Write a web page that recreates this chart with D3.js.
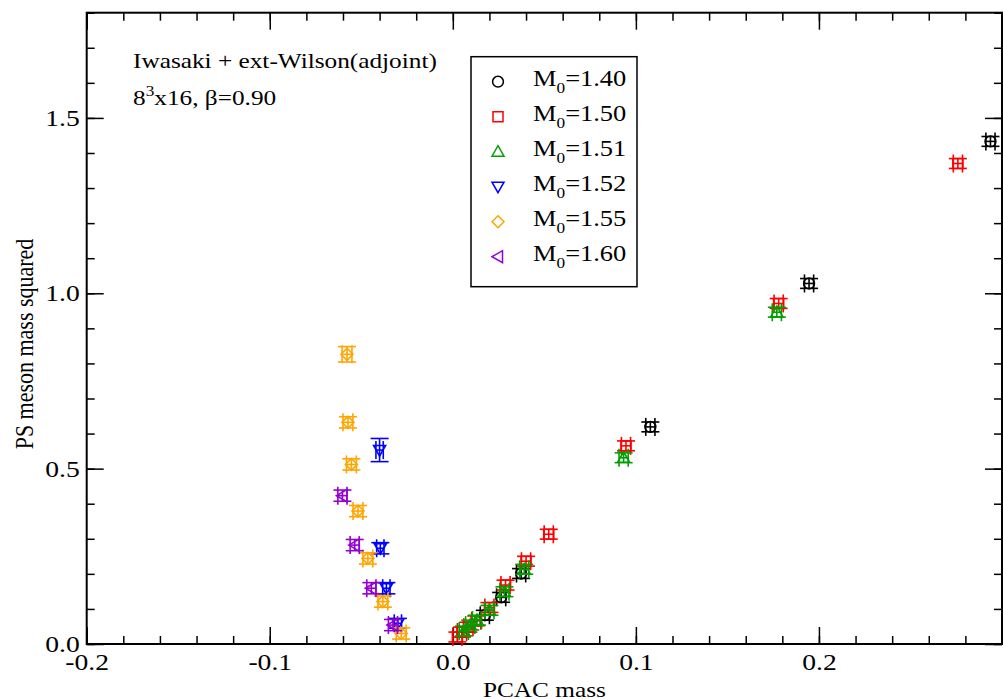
<!DOCTYPE html>
<html>
<head>
<meta charset="utf-8">
<script src="https://cdn.jsdelivr.net/npm/d3@7"></script>
<style>
  body { margin: 0; background: #fff; }
  text { font-family: "Liberation Serif", "Times New Roman", serif; fill: #000; }
</style>
</head>
<body>
<div id="chart"></div>
<script>
// data: [PCAC mass, PS mass^2, x error, y error]
let labels = ["1.40", "1.50", "1.51", "1.52", "1.55", "1.60"];
let colors = ["#000000", "#ff0000", "#00a000", "#0000ff", "#ffa500", "#9400d3"];
let shapes = ["circle", "square", "triangleUp", "triangleDown", "diamond", "triangleLeft"];

let m140 = [[0.2937, 1.433, 0.0025, 0.014], [0.1946, 1.028, 0.0025, 0.014], [0.1079, 0.619, 0.0025, 0.014],
  [0.0373, 0.201, 0.0025, 0.014], [0.0264, 0.133, 0.0025, 0.014], [0.0175, 0.082, 0.0025, 0.014]];
let m150 = [[0.2759, 1.370, 0.0025, 0.014], [0.1780, 0.971, 0.0025, 0.014], [0.0946, 0.565, 0.0025, 0.014],
  [0.0524, 0.313, 0.0025, 0.014], [0.0400, 0.236, 0.0025, 0.014], [0.0288, 0.168, 0.0025, 0.014],
  [0.0200, 0.104, 0.0025, 0.014], [0.0128, 0.066, 0.0025, 0.014], [0.0085, 0.048, 0.0025, 0.014],
  [0.0050, 0.034, 0.0025, 0.014], [0.0025, 0.020, 0.0025, 0.014]];
let m151 = [[0.1770, 0.946, 0.0025, 0.014], [0.0933, 0.531, 0.0025, 0.014], [0.0390, 0.213, 0.0025, 0.014],
  [0.0282, 0.149, 0.0025, 0.014], [0.0200, 0.096, 0.0025, 0.014], [0.0132, 0.068, 0.0025, 0.014],
  [0.0095, 0.054, 0.0025, 0.014], [0.0060, 0.037, 0.0025, 0.014]];
let m152 = [[-0.0400, 0.553, 0.0020, 0.033], [-0.0396, 0.273, 0.0020, 0.016], [-0.0363, 0.159, 0.0020, 0.016],
  [-0.0300, 0.059, 0.0020, 0.014]];
let m155 = [[-0.0578, 0.826, 0.0027, 0.022], [-0.0573, 0.632, 0.0027, 0.016], [-0.0554, 0.512, 0.0027, 0.016],
  [-0.0518, 0.379, 0.0027, 0.016], [-0.0464, 0.244, 0.0027, 0.016], [-0.0382, 0.121, 0.0027, 0.016],
  [-0.0282, 0.030, 0.0027, 0.016]];
let m160 = [[-0.0603, 0.423, 0.0025, 0.016], [-0.0536, 0.282, 0.0025, 0.016], [-0.0445, 0.159, 0.0025, 0.016],
  [-0.0327, 0.054, 0.0025, 0.016]];
let allSets = [m140, m150, m151, m152, m155, m160];

let xMajorTicks = [-0.2, -0.1, 0.0, 0.1, 0.2, 0.3];
let yMajorTicks = [0.0, 0.5, 1.0, 1.5];

// layout
let W = 1003, H = 699;
let pLeft = 86.7, pRight = 1002, pTop = 12.7, pBottom = 644;
let stretch = 1.15; // text in the picture is a bit wide

let svg = d3.select("#chart").append("svg")
  .attr("width", W)
  .attr("height", H);

let x = d3.scaleLinear().domain([-0.2, 0.3]).range([pLeft, pRight]);
let y = d3.scaleLinear().domain([0, 1.8]).range([pBottom, pTop]);

// axes, ticks point inward
function drawAxis(axis, tx, ty, withLabels) {
  let g = svg.append("g")
    .attr("transform", "translate(" + tx + "," + ty + ")")
    .call(axis);
  g.select(".domain").remove();
  g.selectAll("line").attr("stroke", "#000").attr("stroke-width", 1.5);
  if (withLabels) {
    g.selectAll("text")
      .style("font-family", "Liberation Serif")
      .style("font-size", "24px")
      .attr("fill", "#000")
      .attr("transform", "scale(" + stretch + ",1)");
  } else {
    g.selectAll("text").remove();
  }
  return g;
}

let fmt = v => v.toFixed(1);
// minor
drawAxis(d3.axisBottom(x).ticks(25).tickSize(-8), 0, pBottom, false);
drawAxis(d3.axisTop(x).ticks(25).tickSize(-8), 0, pTop, false);
drawAxis(d3.axisLeft(y).ticks(18).tickSize(-8), pLeft, 0, false);
drawAxis(d3.axisRight(y).ticks(18).tickSize(-8), pRight, 0, false);
// major
drawAxis(d3.axisBottom(x).tickValues(xMajorTicks.slice(0, 5)).tickFormat(fmt).tickSize(-17).tickPadding(9), 0, pBottom, true);
drawAxis(d3.axisTop(x).tickValues(xMajorTicks).tickSize(-17), 0, pTop, false);
drawAxis(d3.axisLeft(y).tickValues(yMajorTicks).tickFormat(fmt).tickSize(-17).tickPadding(6), pLeft, 0, true);
drawAxis(d3.axisRight(y).tickValues(yMajorTicks).tickSize(-17), pRight, 0, false);

// frame
svg.append("rect")
  .attr("x", pLeft).attr("y", pTop)
  .attr("width", pRight - pLeft).attr("height", pBottom - pTop)
  .attr("fill", "none")
  .attr("stroke", "#000")
  .attr("stroke-width", 2);

// symbols
function symbolPath(shape) {
  if (shape == "circle") return d3.symbol(d3.symbolCircle, Math.PI * 5.4 * 5.4)();
  if (shape == "square") return "M-5,-5H5V5H-5Z";
  if (shape == "diamond") return "M0,-6L6,0L0,6L-6,0Z";
  if (shape == "triangleUp") return "M0,-6L6,4.5L-6,4.5Z";
  if (shape == "triangleDown") return "M0,6L6,-4.5L-6,-4.5Z";
  if (shape == "triangleLeft") return "M-6,0L4.5,-6L4.5,6Z";
}

let cap = 9;
let plot = svg.append("g");
allSets.forEach((set, i) => {
  let grp = plot.append("g").attr("stroke", colors[i]).attr("fill", "none").attr("stroke-width", 1.6);
  let pts = grp.selectAll("g").data(set).join("g");
  // y error bars + caps
  pts.append("line")
    .attr("x1", d => x(d[0])).attr("x2", d => x(d[0]))
    .attr("y1", d => y(d[1] - d[3])).attr("y2", d => y(d[1] + d[3]));
  pts.append("line")
    .attr("x1", d => x(d[0]) - cap).attr("x2", d => x(d[0]) + cap)
    .attr("y1", d => y(d[1] - d[3])).attr("y2", d => y(d[1] - d[3]));
  pts.append("line")
    .attr("x1", d => x(d[0]) - cap).attr("x2", d => x(d[0]) + cap)
    .attr("y1", d => y(d[1] + d[3])).attr("y2", d => y(d[1] + d[3]));
  // x error bars + caps
  pts.append("line")
    .attr("x1", d => x(d[0] - d[2])).attr("x2", d => x(d[0] + d[2]))
    .attr("y1", d => y(d[1])).attr("y2", d => y(d[1]));
  pts.append("line")
    .attr("x1", d => x(d[0] - d[2])).attr("x2", d => x(d[0] - d[2]))
    .attr("y1", d => y(d[1]) - cap).attr("y2", d => y(d[1]) + cap);
  pts.append("line")
    .attr("x1", d => x(d[0] + d[2])).attr("x2", d => x(d[0] + d[2]))
    .attr("y1", d => y(d[1]) - cap).attr("y2", d => y(d[1]) + cap);
  pts.append("path")
    .attr("d", symbolPath(shapes[i]))
    .attr("transform", d => "translate(" + x(d[0]) + "," + y(d[1]) + ")");
});

// helper for stretched text
function addText(px, py, fontSize, anchor, rotate) {
  let g = svg.append("g")
    .attr("transform", "translate(" + px + "," + py + ") scale(" + stretch + ",1)" + (rotate ? " rotate(" + rotate + ")" : ""));
  return g.append("text")
    .attr("text-anchor", anchor)
    .style("font-size", fontSize + "px");
}

// axis titles
addText((pLeft + pRight) / 2, 697, 22, "middle").text("PCAC mass");
addText(33, 344, 22, "middle", -90).text("PS meson mass squared");

// annotation
addText(133, 68, 22, "start").text("Iwasaki + ext-Wilson(adjoint)");
let t2 = addText(133, 105, 22, "start");
t2.append("tspan").text("8");
t2.append("tspan").attr("dy", -9).style("font-size", "15px").text("3");
t2.append("tspan").attr("dy", 9).text("x16, \u03b2=0.90");

// legend
let legX = 471, legY = 56.7, legW = 166, legH = 230;
svg.append("rect")
  .attr("x", legX).attr("y", legY)
  .attr("width", legW).attr("height", legH)
  .attr("fill", "#fff")
  .attr("stroke", "#000")
  .attr("stroke-width", 1.5);
labels.forEach((lab, i) => {
  let cy = 81.7 + i * 35;
  svg.append("path")
    .attr("d", symbolPath(shapes[i]))
    .attr("transform", "translate(498," + cy + ")")
    .attr("fill", "none")
    .attr("stroke", colors[i])
    .attr("stroke-width", 1.5);
  let t = addText(533, cy + 4, 23, "start");
  t.append("tspan").text("M");
  t.append("tspan").attr("dy", 7).style("font-size", "15px").text("0");
  t.append("tspan").attr("dy", -7).text("=" + lab);
});
</script>
</body>
</html>
